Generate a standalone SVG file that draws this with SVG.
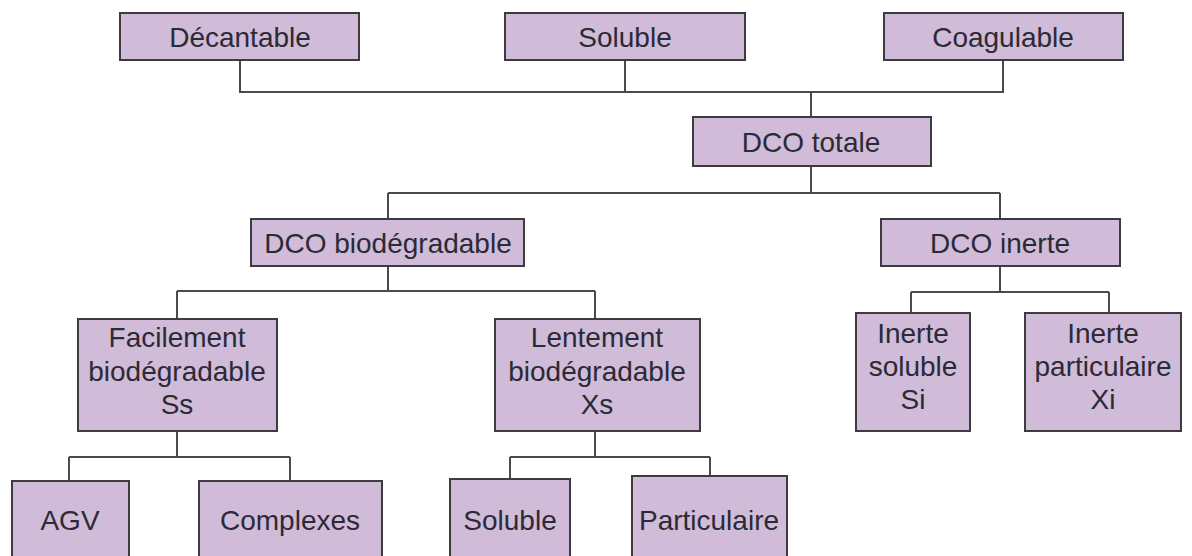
<svg xmlns="http://www.w3.org/2000/svg" width="1192" height="556" viewBox="0 0 1192 556">
<style>
.box{fill:#d0bbd9;stroke:#3c3c40;stroke-width:2}
.t{font-family:"Liberation Sans",Arial,sans-serif;font-size:28px;fill:#2b2a35;text-anchor:middle}
.c{fill:none;stroke:#4a4a4e;stroke-width:2}
</style>
<rect width="1192" height="556" fill="#ffffff"/>
<g id="connectors">
<path class="c" d="M240,60V92H1003V60M625,60V92M811,92V117"/>
<path class="c" d="M811,166V193M388,193H1000M388,193V219M1000,193V219"/>
<path class="c" d="M388,266V291M177,291H595M177,291V319M595,291V319"/>
<path class="c" d="M1000,266V292M911,292H1109M911,292V313M1109,292V313"/>
<path class="c" d="M177,431V457M69,457H290M69,457V481M290,457V481"/>
<path class="c" d="M595,431V457M510,457H710M510,457V479M710,457V476"/>
</g>
<g id="decantable"><rect class="box" x="120" y="13" width="239" height="47"/><text class="t" x="240" y="47">Décantable</text></g>
<g id="soluble-top"><rect class="box" x="505" y="13" width="240" height="47"/><text class="t" x="625" y="47">Soluble</text></g>
<g id="coagulable"><rect class="box" x="884" y="13" width="239" height="47"/><text class="t" x="1003" y="47">Coagulable</text></g>
<g id="dco-totale"><rect class="box" x="693" y="117" width="238" height="49"/><text class="t" x="811" y="152">DCO totale</text></g>
<g id="dco-bio"><rect class="box" x="251" y="219" width="273" height="47"/><text class="t" x="388" y="253">DCO biodégradable</text></g>
<g id="dco-inerte"><rect class="box" x="881" y="219" width="239" height="47"/><text class="t" x="1000" y="253">DCO inerte</text></g>
<g id="facilement"><rect class="box" x="78" y="319" width="199" height="112"/><text class="t" x="177" y="347">Facilement</text><text class="t" x="177" y="381">biodégradable</text><text class="t" x="177" y="414">Ss</text></g>
<g id="lentement"><rect class="box" x="495" y="319" width="205" height="112"/><text class="t" x="597" y="347">Lentement</text><text class="t" x="597" y="381">biodégradable</text><text class="t" x="597" y="414">Xs</text></g>
<g id="inerte-soluble"><rect class="box" x="856" y="313" width="114" height="118"/><text class="t" x="913" y="343">Inerte</text><text class="t" x="913" y="376">soluble</text><text class="t" x="913" y="409">Si</text></g>
<g id="inerte-particulaire"><rect class="box" x="1025" y="313" width="156" height="118"/><text class="t" x="1103" y="343">Inerte</text><text class="t" x="1103" y="376">particulaire</text><text class="t" x="1103" y="409">Xi</text></g>
<g id="agv"><rect class="box" x="12" y="481" width="117" height="80"/><text class="t" x="70" y="530">AGV</text></g>
<g id="complexes"><rect class="box" x="199" y="481" width="183" height="80"/><text class="t" x="290" y="530">Complexes</text></g>
<g id="soluble-bottom"><rect class="box" x="450" y="479" width="120" height="82"/><text class="t" x="510" y="530">Soluble</text></g>
<g id="particulaire"><rect class="box" x="632" y="476" width="155" height="85"/><text class="t" x="709" y="530">Particulaire</text></g>
</svg>
